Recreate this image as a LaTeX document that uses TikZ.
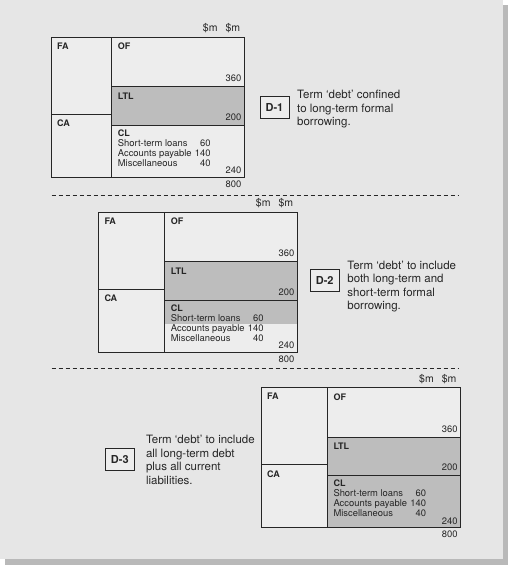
\documentclass[tikz,border=0pt]{standalone}
\usepackage{fontspec}
\setmainfont{TeX Gyre Heros}
\usetikzlibrary{positioning}
\definecolor{panel}{HTML}{E6E6E6}
\definecolor{shadow}{HTML}{B9B9B9}
\definecolor{cellbg}{HTML}{EDEDED}
\definecolor{debt}{HTML}{BDBDBD}
\definecolor{ink}{HTML}{262626}
\def\sheetht{140}
\def\fasplit{77}
\def\ofsplit{49.5}
\def\clsplit{88}

\begin{document}
\begin{tikzpicture}[x=1pt,y=-1pt,text=ink]
    \tikzstyle{cell}=[rectangle,draw=ink,line width=1pt,fill=cellbg,
        inner sep=0pt,outer sep=0pt,anchor=north west]
    \tikzstyle{head}=[inner sep=0pt,font=\bfseries\fontsize{9}{10}\selectfont]
    \tikzstyle{small}=[inner sep=0pt,font=\fontsize{9.4}{10}\selectfont]
    \tikzstyle{unit}=[inner sep=0pt,font=\fontsize{10.5}{12}\selectfont,anchor=base east]
    \tikzstyle{dbox}=[draw=ink,line width=1pt,fill=cellbg,minimum width=29pt,
        minimum height=22pt,inner sep=0pt,font=\bfseries\fontsize{11}{13}\selectfont]
    \tikzstyle{desc}=[align=left,inner sep=0pt,font=\fontsize{11.5}{13.5}\selectfont]
    \tikzstyle{sep}=[draw=ink,line width=0.8pt,dash pattern=on 4pt off 3pt]

    % Frame and shadow
    \useasboundingbox (0,0) rectangle (508,565);
    \fill[shadow] (5,5) rectangle (508,565);
    \fill[panel] (0,0) rectangle (502.5,559);

    % Draw the three balance sheets
    \foreach \n / \x / \y / \cw / \w / \clshade in
        {1/51/37.3/60.7/193/0, 2/98.3/212.3/66.4/198.7/23.3, 3/261/387.7/66.3/199.3/52}
    {
        \node[cell,minimum width=\cw,minimum height=\fasplit] (FA-\n) at (\x,\y) {};
        \node[cell,minimum width=\cw,minimum height=\sheetht-\fasplit] (CA-\n) at (FA-\n.south west) {};
        \node[cell,minimum width=\w-\cw,minimum height=\ofsplit] (OF-\n) at (FA-\n.north east) {};
        \node[cell,fill=debt,minimum width=\w-\cw,minimum height=\clsplit-\ofsplit] (LTL-\n) at (OF-\n.south west) {};
        \node[cell,minimum width=\w-\cw,minimum height=\sheetht-\clsplit,
            path picture={\fill[debt] (path picture bounding box.north west)
                rectangle ([yshift=-\clshade pt]path picture bounding box.north east);}] (CL-\n) at (LTL-\n.south west) {};

        % Headings of the blocks
        \node[head,anchor=north west] (FA-\n-lbl) at ([shift={(6,5.5)}]FA-\n.north west) {FA};
        \node[head,anchor=north west] (CA-\n-lbl) at ([shift={(6,5.5)}]CA-\n.north west) {CA};
        \node[head,anchor=north west] (OF-\n-lbl) at ([shift={(6,5.5)}]OF-\n.north west) {OF};
        \node[head,anchor=north west] (LTL-\n-lbl) at ([shift={(6,5.5)}]LTL-\n.north west) {LTL};
        \node[head,anchor=base west] (CL-\n-lbl) at ([shift={(6,11)}]CL-\n.north west) {CL};

        % Current liabilities in detail
        \foreach \item / \amt [count=\i] in {Short-term loans/60, Accounts payable/140, Miscellaneous/40}
        {
            \node[small,anchor=base west] (item-\n-\i) at ([shift={(6,10.7+10*\i)}]CL-\n.north west) {\item};
            \node[small,anchor=base east] (amt-\n-\i) at ([shift={(99,10.7+10*\i)}]CL-\n.north west) {\amt};
        }

        % Totals
        \node[small,anchor=base east] (OF-\n-sum) at ([shift={(-2.5,-5)}]OF-\n.south east) {360};
        \node[small,anchor=base east] (LTL-\n-sum) at ([shift={(-2.5,-5)}]LTL-\n.south east) {200};
        \node[small,anchor=base east] (CL-\n-sum) at ([shift={(-2.5,-3.6)}]CL-\n.south east) {240};
        \node[small,anchor=base east] (tot-\n) at ([shift={(-2.5,10.2)}]CL-\n.south east) {800};
        \node[unit] (unit-\n-b) at ([shift={(-3.7,-5.7)}]OF-\n.north east) {\$m};
        \node[unit] (unit-\n-a) at ([shift={(-26.3,-5.7)}]OF-\n.north east) {\$m};
    }

    % Dashed separators
    \draw[sep] (51.7,195) -- (459,195);
    \draw[sep] (51.7,368.5) -- (459,368.5);

    % Definitions of debt
    \node[dbox] (D1) at (274.5,107.5) {D-1};
    \node[desc,right=7.5pt of D1,yshift=-1.8pt] (D1-text)
        {Term ‘debt’ confined\\to long-term formal\\borrowing.};
    \node[dbox] (D2) at (324.7,280.8) {D-2};
    \node[desc,right=7.5pt of D2,yshift=-5.7pt] (D2-text)
        {Term ‘debt’ to include\\both long-term and\\short-term formal\\borrowing.};
    \node[dbox] (D3) at (119.8,459.8) {D-3};
    \node[desc,right=11pt of D3] (D3-text)
        {Term ‘debt’ to include\\all long-term debt\\plus all current\\liabilities.};
\end{tikzpicture}
\end{document}
